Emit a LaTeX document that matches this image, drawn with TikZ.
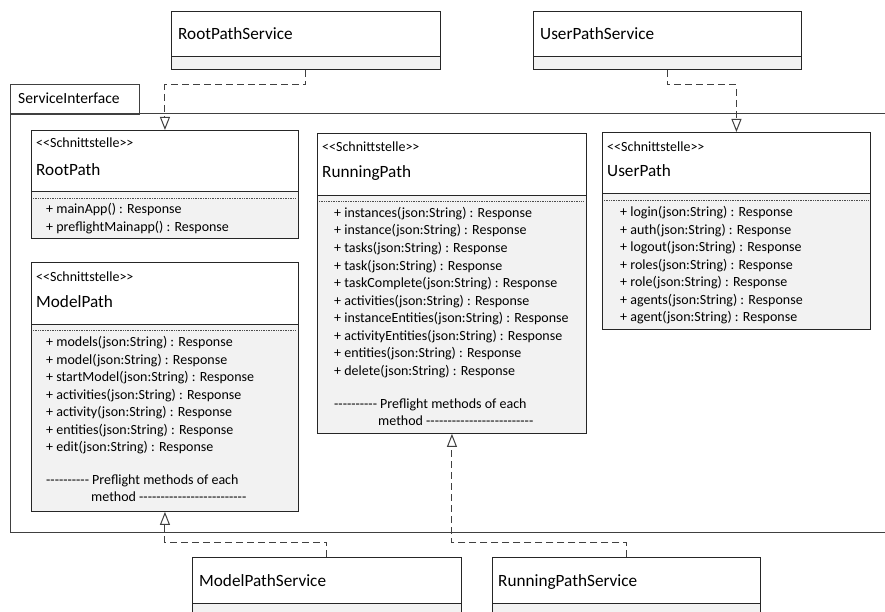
\documentclass[tikz,border=0pt]{standalone}
\usepackage{fontspec}
\setmainfont{Carlito}[Ligatures=TeXOff]
\usetikzlibrary{arrows.meta}

\definecolor{compgray}{HTML}{F2F2F2}
\definecolor{edgecol}{HTML}{262626}
\definecolor{dashgray}{HTML}{404040}
\definecolor{framegray}{HTML}{404040}

% class box: name, x, y, width, height, header height
\newcommand\umlclass[6]{%
  \fill[compgray] (#2,#3+#6) rectangle (#2+#4,#3+#5);
  \node[classbox, minimum width=#4pt, minimum height=#5pt] (#1) at (#2,#3) {};
  \draw[edgecol, line width=0.9pt] (#1.north west) ++(0,#6) -- ++(#4,0);
}
% fine dotted separator under an interface header
\newcommand\umlsep[3]{% x, y, width
  \draw[black!70, line width=0.6pt, dash pattern=on 0.8pt off 0.9pt] (#1+2,#2) -- ++(#3-4,0);
}

\begin{document}
\begin{tikzpicture}[x=1pt,y=-1pt,
  classbox/.style={draw=edgecol, line width=0.9pt, inner sep=0pt, anchor=north west},
  title/.style={inner sep=0pt, anchor=base west, font=\fontsize{17.2}{20}\selectfont},
  stereo/.style={inner sep=0pt, anchor=base west, font=\fontsize{14}{16}\selectfont},
  meth/.style={inner sep=0pt, anchor=base west, font=\fontsize{14}{17.5}\selectfont},
  pkglabel/.style={inner sep=0pt, anchor=base west, font=\fontsize{15.5}{18}\selectfont},
  dep/.style={draw=dashgray, line width=1pt, dash pattern=on 7pt off 4pt,
    -{Triangle[open, length=13pt, width=10pt, fill=white]}},
]
\useasboundingbox (0,0) rectangle (885,612);
\clip (0,0) rectangle (885,612);

% package frame with its tab
\draw[framegray, line width=1pt] (890,114) -- (10,114) -- (10,532) -- (890,532);
\node[draw=framegray, line width=1pt, inner sep=0pt, anchor=north west,
  minimum width=129pt, minimum height=30pt] (pkgtab) at (10,84) {};
\node[pkglabel] (pkgname) at (18,104) {ServiceInterface};

% service classes
\umlclass{rootsvc}{171}{11}{269}{58}{45}
\node[title] (rootsvcname) at (178,39.5) {RootPathService};
\umlclass{usersvc}{533}{11}{268}{58}{45}
\node[title] (usersvcname) at (540,39.5) {UserPathService};
\umlclass{modelsvc}{192}{557}{269}{70}{46}
\node[title] (modelsvcname) at (199,586.5) {ModelPathService};
\umlclass{runsvc}{492}{557}{268}{70}{46}
\node[title] (runsvcname) at (498,586.5) {RunningPathService};

% RootPath interface
\umlclass{rootpath}{31}{130}{267}{108}{61}
\umlsep{31}{198}{267}
\node[stereo] (rootst) at (36,148) {<<Schnittstelle>>};
\node[title] (rootname) at (36,175.5) {RootPath};
\node[meth] (rootm1) at (46,213.5) {+ mainApp() : Response};
\node[meth] (rootm2) at (46,231.5) {+ preflightMainapp() : Response};

% ModelPath interface
\umlclass{modelpath}{31}{262}{267}{249}{62}
\umlsep{31}{330}{267}
\node[stereo] (modelst) at (36,281) {<<Schnittstelle>>};
\node[title] (modelname) at (36,307.5) {ModelPath};
\foreach \m [count=\i from 0] in {models,model,startModel,activities,activity,entities,edit}
  \node[meth] (modelm\i) at (46,346.5+17.5*\i) {+ \m(json:String) : Response};
\node[meth] (modelpf1) at (46,484.5) {---------- Preflight methods of each};
\node[meth] (modelpf2) at (91,501.5) {method -------------------------};

% RunningPath interface
\umlclass{runpath}{317}{133}{269}{300}{62}
\umlsep{317}{201}{269}
\node[stereo] (runst) at (322,152) {<<Schnittstelle>>};
\node[title] (runname) at (322,177.5) {RunningPath};
\foreach \m [count=\i from 0] in {instances,instance,tasks,task,taskComplete,activities,instanceEntities,activityEntities,entities,delete}
  \node[meth] (runm\i) at (334,217.5+17.5*\i) {+ \m(json:String) : Response};
\node[meth] (runpf1) at (334,408.5) {---------- Preflight methods of each};
\node[meth] (runpf2) at (378,425.5) {method -------------------------};

% UserPath interface
\umlclass{userpath}{602}{132}{268}{197}{61}
\umlsep{602}{200}{268}
\node[stereo] (userst) at (607,152) {<<Schnittstelle>>};
\node[title] (username) at (607,176.5) {UserPath};
\foreach \m [count=\i from 0] in {login,auth,logout,roles,role,agents,agent}
  \node[meth] (userm\i) at (620,216.5+17.5*\i) {+ \m(json:String) : Response};

% realization dependencies
\draw[dep] (rootsvc.south) -- ++(0,15) -| (rootpath.north);
\draw[dep] (usersvc.south) -- ++(0,15) -| (userpath.north);
\draw[dep] (modelsvc.north) -- ++(0,-15) -| (modelpath.south);
\draw[dep] (runsvc.north) -- ++(0,-15) -| (runpath.south);
\end{tikzpicture}
\end{document}
